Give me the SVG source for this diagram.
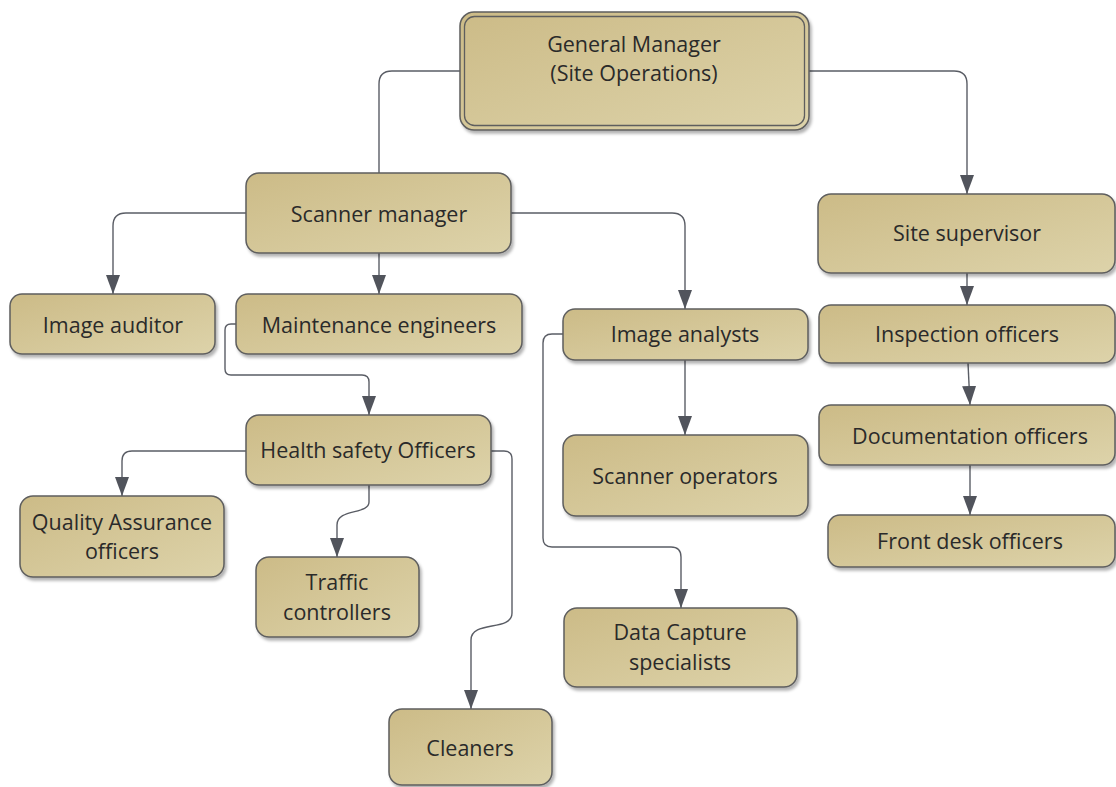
<svg xmlns="http://www.w3.org/2000/svg" width="1116" height="787" viewBox="0 0 1116 787">
<defs>
<linearGradient id="fill" x1="0" y1="0" x2="1" y2="1">
<stop offset="0" stop-color="#ccbb87"/>
<stop offset="1" stop-color="#ddd3aa"/>
</linearGradient>
<filter id="sh" x="-10%" y="-10%" width="130%" height="140%">
<feDropShadow dx="2" dy="3" stdDeviation="1.5" flood-color="#000" flood-opacity="0.3"/>
</filter>
<marker id="arr" viewBox="0 0 19 14" refX="19" refY="7" markerWidth="19" markerHeight="14" markerUnits="userSpaceOnUse" orient="auto">
<path d="M0,0 L19,7 L0,14 z" fill="#51545c"/>
</marker>
<style>
.box{fill:url(#fill);stroke:#5e5e5e;stroke-width:1.5;filter:url(#sh)}
.inner{fill:none;stroke:#5e5e5e;stroke-width:1.3}
.t{font-family:"Open Sans","Noto Sans",sans-serif;font-size:21.5px;fill:#2a2a2a;text-anchor:middle;dominant-baseline:central}
.c{fill:none;stroke:#5a5d65;stroke-width:1.4}
.a{marker-end:url(#arr)}
</style>
</defs>
<rect width="1116" height="787" fill="#fff"/>
<g id="connectors">
<path class="c" d="M460,71 H392 Q379,71 379,84 V173"/>
<path class="c a" d="M809,71 H954 Q967,71 967,84 V194"/>
<path class="c a" d="M246,213 H126 Q113,213 113,226 V294"/>
<path class="c a" d="M379,253 V294"/>
<path class="c a" d="M511,213 H672 Q685,213 685,226 V309"/>
<path class="c a" d="M236,324 H231 Q225,324 225,330 V369 Q225,375 231,375 H362 Q369,375 369,382 V415"/>
<path class="c a" d="M246,451 H132 Q122,451 122,461 V496"/>
<path class="c a" d="M369,485 V502 C369,515 337,508 337,525 V557"/>
<path class="c a" d="M491,451 H504 Q512,451 512,459 V613 C512,632 471,620 471,640 V709"/>
<path class="c a" d="M685,360 V435"/>
<path class="c a" d="M563,334 H552 Q543,334 543,343 V538 Q543,547 552,547 H671 Q681,547 681,557 V608"/>
<path class="c a" d="M967,273 V305"/>
<path class="c a" d="M968,363 L970,405"/>
<path class="c a" d="M970,465 V515"/>
</g>
<g id="gm">
<rect class="box" x="460" y="12" width="349" height="118" rx="14"/>
<rect class="inner" x="464.5" y="16.5" width="340" height="109" rx="10"/>
<text class="t" x="634" y="43">General Manager</text>
<text class="t" x="634" y="72">(Site Operations)</text>
</g>
<g id="scanner-manager">
<rect class="box" x="246" y="173" width="265" height="80" rx="13"/>
<text class="t" x="379" y="213">Scanner manager</text>
</g>
<g id="image-auditor">
<rect class="box" x="10" y="294" width="205" height="60" rx="12"/>
<text class="t" x="113" y="324">Image auditor</text>
</g>
<g id="maintenance">
<rect class="box" x="236" y="294" width="286" height="60" rx="12"/>
<text class="t" x="379" y="324">Maintenance engineers</text>
</g>
<g id="image-analysts">
<rect class="box" x="563" y="309" width="245" height="51" rx="12"/>
<text class="t" x="685" y="333">Image analysts</text>
</g>
<g id="site-supervisor">
<rect class="box" x="818" y="194" width="297" height="79" rx="13"/>
<text class="t" x="967" y="232">Site supervisor</text>
</g>
<g id="inspection">
<rect class="box" x="819" y="305" width="296" height="58" rx="12"/>
<text class="t" x="967" y="333">Inspection officers</text>
</g>
<g id="documentation">
<rect class="box" x="819" y="405" width="296" height="60" rx="12"/>
<text class="t" x="970" y="435">Documentation officers</text>
</g>
<g id="front-desk">
<rect class="box" x="828" y="515" width="287" height="52" rx="12"/>
<text class="t" x="970" y="540">Front desk officers</text>
</g>
<g id="health-safety">
<rect class="box" x="246" y="415" width="245" height="70" rx="13"/>
<text class="t" x="368" y="449">Health safety Officers</text>
</g>
<g id="scanner-operators">
<rect class="box" x="563" y="435" width="245" height="81" rx="13"/>
<text class="t" x="685" y="475">Scanner operators</text>
</g>
<g id="quality-assurance">
<rect class="box" x="20" y="496" width="204" height="81" rx="13"/>
<text class="t" x="122" y="521">Quality Assurance</text>
<text class="t" x="122" y="550">officers</text>
</g>
<g id="traffic">
<rect class="box" x="256" y="557" width="163" height="80" rx="13"/>
<text class="t" x="337" y="581">Traffic</text>
<text class="t" x="337" y="611">controllers</text>
</g>
<g id="data-capture">
<rect class="box" x="564" y="608" width="233" height="79" rx="13"/>
<text class="t" x="680" y="631">Data Capture</text>
<text class="t" x="680" y="661">specialists</text>
</g>
<g id="cleaners">
<rect class="box" x="389" y="709" width="163" height="76" rx="13"/>
<text class="t" x="470" y="747">Cleaners</text>
</g>
</svg>
